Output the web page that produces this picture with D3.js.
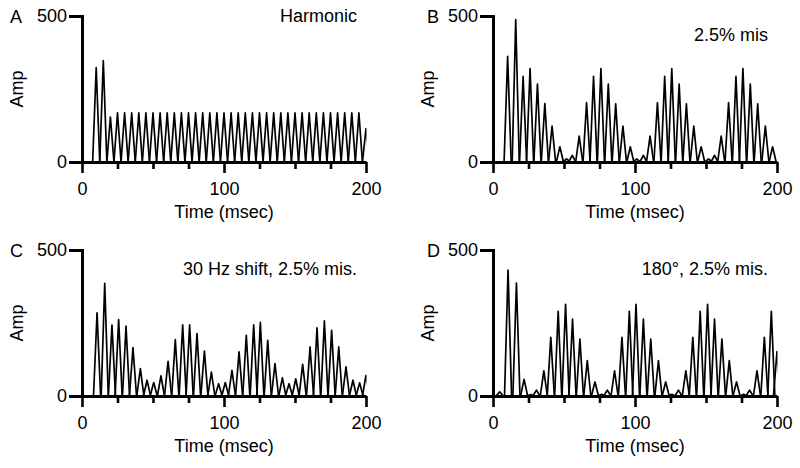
<!DOCTYPE html>
<html><head><meta charset="utf-8">
<script src="https://cdn.jsdelivr.net/npm/d3@7"></script>
<style>
body{margin:0;background:#fff;}
svg{display:block;font-family:"Liberation Sans",Arial,Helvetica,sans-serif;}
</style></head><body>
<svg id="chart" width="800" height="468"></svg>
<script>
// ---------------- data ----------------
const panelLetters = ["A", "B", "C", "D"];
const panelTitles = ["Harmonic", "2.5% mis", "30 Hz shift, 2.5% mis.", "180\u00b0, 2.5% mis."];
const xLabel = "Time (msec)";
const yLabel = "Amp";
const xMajorTicks = [0, 100, 200];
const xMinorTicks = [25, 50, 75, 125, 150, 175];
const yTicks = [0, 500];

// peak times (msec) and peak amplitudes
const timesA = [10, 15, 20, 25, 30, 35, 40, 45, 50, 55, 60, 65, 70, 75, 80, 85, 90, 95, 100,
  105, 110, 115, 120, 125, 130, 135, 140, 145, 150, 155, 160, 165, 170, 175, 180, 185, 190, 195, 200];
const ampA = [323, 347, 154, 168, 168, 168, 168, 168, 168, 168, 168, 168, 168, 168, 168, 168, 168, 168, 168,
  168, 168, 168, 168, 168, 168, 168, 168, 168, 168, 168, 168, 168, 168, 168, 168, 168, 168, 168, 114];

const timesB = [10.3, 16.0, 21.2, 26.1, 31.3, 36.5, 41.6, 47.1, 51.8, 55.8, 60.7, 65.9, 70.8, 76.0, 81.2,
  86.4, 91.5, 96.7, 101.2, 105.9, 110.6, 115.8, 120.9, 125.9, 131.1, 136.2, 141.4, 146.6, 151.8, 156.0,
  160.7, 165.9, 171.1, 176.0, 181.2, 186.4, 191.8, 196.9];
const ampB = [362, 488, 293, 320, 267, 200, 123, 52, 11, 23, 89, 203, 293, 320, 267,
  199, 123, 52, 11, 23, 89, 203, 293, 320, 267, 199, 123, 52, 11, 23,
  89, 203, 293, 320, 267, 199, 123, 52];

const timesC = [10.6, 16.0, 21.1, 25.8, 31.0, 35.9, 41.1, 45.8, 50.5, 55.6, 60.6, 65.7, 70.9, 75.8, 81.0,
  86.2, 91.1, 96.2, 100.9, 105.6, 110.6, 115.7, 120.9, 125.6, 130.8, 135.9, 141.1, 145.8, 150.5, 155.4,
  160.6, 165.5, 170.7, 175.8, 180.8, 185.9, 190.8, 195.5, 200];
const ampC = [285, 386, 243, 262, 239, 166, 94, 54, 46, 69, 119, 193, 244, 244, 214,
  154, 82, 42, 46, 88, 151, 208, 244, 252, 191, 111, 62, 42, 59, 108,
  168, 233, 257, 225, 168, 100, 54, 45, 71];

const timesD = [4.7, 10.6, 16.5, 21.9, 26.6, 30.6, 35.8, 40.7, 45.9, 51.1, 56.0, 61.2, 66.4, 71.8, 76.5,
  80.5, 85.6, 90.8, 96.0, 100.7, 105.9, 111.1, 116.5, 121.6, 125.9, 130.6, 135.8, 140.7, 145.9, 151.1,
  156.0, 161.2, 166.4, 171.5, 176.5, 180.7, 185.9, 191.1, 196.0, 200];
const ampD = [14, 431, 387, 57, 5, 20, 86, 201, 290, 314, 263, 195, 121, 48, 6,
  20, 86, 201, 290, 314, 263, 195, 121, 48, 6, 20, 86, 201, 290, 314,
  263, 195, 121, 48, 6, 20, 86, 201, 290, 152];

const seriesTimes = [timesA, timesB, timesC, timesD];
const seriesAmps = [ampA, ampB, ampC, ampD];

// ---------------- layout / style ----------------
const origins = [[82, 162], [493, 162], [82, 396], [493, 396]]; // (x of 0 msec, y of 0 amp)
const plotW = 284, plotH = 146;
const letterX = [-72, -66, -72, -66];
const titleDy = [5.5, 25, 25, 24.5];
const peakHalfWidth = 2.5; // msec, drawing width of each peak
const fontSize = 18;

const svg = d3.select("#chart");
svg.append("rect").attr("width", 800).attr("height", 468).attr("fill", "#fff");

panelLetters.forEach((letter, i) => {
  const [ox, oy] = origins[i];
  const g = svg.append("g").attr("transform", `translate(${ox},${oy - plotH})`);
  const x = d3.scaleLinear().domain([0, 200]).range([0, plotW]);
  const y = d3.scaleLinear().domain([0, 500]).range([plotH, 0]);

  const clipId = "clip" + i;
  g.append("clipPath").attr("id", clipId)
    .append("rect").attr("x", 0).attr("y", -10).attr("width", plotW + 0.5).attr("height", plotH + 12);

  const peaks = seriesTimes[i].map((t, j) => ({ t: t, a: seriesAmps[i][j] }));
  const line = d3.line().x(d => x(d[0])).y(d => y(d[1]));
  g.append("g").attr("clip-path", `url(#${clipId})`)
    .selectAll("path").data(peaks).join("path")
    .attr("d", d => line([[d.t - peakHalfWidth, 0], [d.t, d.a], [d.t + peakHalfWidth, 0]]))
    .attr("fill", "none").attr("stroke", "#000").attr("stroke-width", 1.7)
    .attr("stroke-linejoin", "round");

  // x axis: minor ticks
  const xMinor = g.append("g").attr("transform", `translate(0,${plotH})`)
    .call(d3.axisBottom(x).tickValues(xMinorTicks).tickSize(7).tickFormat(""));
  xMinor.select(".domain").remove();
  xMinor.selectAll(".tick line").attr("stroke-width", 2.6);

  // x axis: major ticks with labels
  const xMajor = g.append("g").attr("transform", `translate(0,${plotH})`)
    .call(d3.axisBottom(x).tickValues(xMajorTicks).tickSize(11).tickSizeOuter(0).tickPadding(9).tickFormat(d3.format("d")));
  xMajor.select(".domain").attr("stroke-width", 3);
  xMajor.selectAll(".tick line").attr("stroke-width", 2.6);
  xMajor.selectAll("text").attr("font-size", fontSize).attr("font-family", null).attr("fill", "#000");

  // y axis
  const yAxis = g.append("g")
    .call(d3.axisLeft(y).tickValues(yTicks).tickSize(13).tickSizeOuter(0).tickPadding(2).tickFormat(d3.format("d")));
  yAxis.select(".domain").attr("stroke-width", 3).attr("stroke-linecap", "square");
  yAxis.selectAll(".tick line").attr("stroke-width", 3);
  yAxis.selectAll("text").attr("font-size", fontSize).attr("font-family", null).attr("fill", "#000");

  // labels
  g.append("text").attr("x", x(100)).attr("y", plotH + 56)
    .attr("text-anchor", "middle").attr("font-size", fontSize).text(xLabel);
  g.append("text").attr("transform", `translate(-59,${plotH / 2}) rotate(-90)`)
    .attr("text-anchor", "middle").attr("font-size", fontSize).text(yLabel);
  g.append("text").attr("x", letterX[i]).attr("y", 7)
    .attr("font-size", fontSize).text(letter);
  g.append("text").attr("x", x(200) - 9).attr("y", titleDy[i])
    .attr("text-anchor", "end").attr("font-size", fontSize).text(panelTitles[i]);
});
</script>
</body></html>
